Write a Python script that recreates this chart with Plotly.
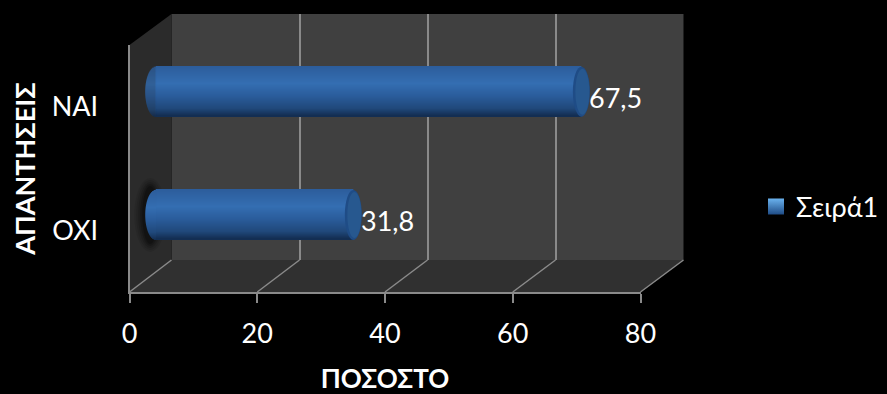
import math
import plotly.graph_objects as go

categories = ["OXI", "NAI"]
values = [31.8, 67.5]
x_ticks = [0, 20, 40, 60, 80]
series_name = "Σειρά1"
x_title = "ΠΟΣΟΣΤΟ"
y_title = "ΑΠΑΝΤΗΣΕΙΣ"

W, H = 887, 394
FONT = "Lato, 'Noto Sans', sans-serif"
TEXT = "#ffffff"
GRID = "#8a8a8a"
WALL = "#404040"
SIDE = "#2b2b2b"
FLOOR = "#303030"

def px(x):
    return x / W
def py(y):
    return 1 - y / H

UNIT_PX = 511 / 80
PAD = 5
FRONT = dict(l=129.5, r=640.5, t=45, b=292)
MID = dict(l=150.2 - PAD * UNIT_PX, r=661.2, t=30, b=276.5)
BACK = dict(l=171.5, r=683.5, t=14, b=260)

def dom_x(p):
    return [px(p["l"]), px(p["r"])]
def dom_y(p):
    return [py(p["b"]), py(p["t"])]

stops = [(0.0, (44, 92, 155)), (0.35, (52, 110, 178)), (0.6, (42, 92, 155)),
         (0.85, (32, 72, 122)), (1.0, (18, 44, 80))]

def shade(t):
    for (a, ca), (b, cb) in zip(stops, stops[1:]):
        if t <= b:
            f = (t - a) / (b - a)
            return "rgb(%d,%d,%d)" % tuple(round(u + (v - u) * f) for u, v in zip(ca, cb))
    return "rgb(%d,%d,%d)" % stops[-1][1]

BAR_PX = 50
N = 50
STRIP = BAR_PX / N
CAT_PX = (MID["b"] - MID["t"]) / 2
LEFT_HW = 10.5
LEFT_CX = 5.5
base_val = LEFT_CX / UNIT_PX

fig = go.Figure()

fig.add_trace(go.Scatter(x=[0], y=[0], mode="none", xaxis="x", yaxis="y", showlegend=False, hoverinfo="skip"))

shapes = []
def poly(pts, fill):
    d = "M" + "L".join(f"{px(a):.5f},{py(b):.5f}" for a, b in pts) + "Z"
    shapes.append(dict(type="path", path=d, xref="paper", yref="paper", fillcolor=fill,
                       line=dict(width=0), layer="below"))
def seg(a, b):
    shapes.append(dict(type="line", xref="paper", yref="paper", x0=px(a[0]), y0=py(a[1]),
                       x1=px(b[0]), y1=py(b[1]), line=dict(color=GRID, width=1.5), layer="below"))

poly([(BACK["l"], BACK["t"]), (BACK["r"], BACK["t"]), (BACK["r"], BACK["b"]), (BACK["l"], BACK["b"])], WALL)
poly([(FRONT["l"], FRONT["t"]), (BACK["l"], BACK["t"]), (BACK["l"], BACK["b"]), (FRONT["l"], FRONT["b"])], SIDE)
poly([(FRONT["l"], FRONT["b"]), (FRONT["r"], FRONT["b"]), (BACK["r"], BACK["b"]), (BACK["l"], BACK["b"])], FLOOR)
for v in x_ticks:
    f = FRONT["l"] + (FRONT["r"] - FRONT["l"]) * v / 80
    b = BACK["l"] + (BACK["r"] - BACK["l"]) * v / 80
    seg((f, FRONT["b"]), (b, BACK["b"]))

# soft shadow on the side wall behind the lower bar
for hw, hh, op in [(16, 37, 0.08), (14, 35, 0.1), (12, 33, 0.14), (10, 31, 0.18), (8, 29, 0.22)]:
    shapes.append(dict(type="circle", xref="x2", yref="y2", xsizemode="pixel", ysizemode="pixel",
                       xanchor=0, yanchor=categories[0], x0=-hw, x1=hw, y0=-hh, y1=hh,
                       fillcolor="#000000", opacity=op, line=dict(width=0), layer="below"))

for i in range(N):
    t = (i + 0.5) / N
    fig.add_trace(go.Bar(
        x=[v - base_val for v in values], y=categories, base=base_val, orientation="h",
        width=(STRIP + 0.4) / CAT_PX, offset=(BAR_PX / 2 - (i + 1) * STRIP) / CAT_PX,
        marker=dict(color=shade(t), line=dict(width=0)),
        xaxis="x2", yaxis="y2", showlegend=False, hoverinfo="skip"))
    u = 2 * t - 1
    reach = LEFT_CX - LEFT_HW * math.sqrt(max(0, 1 - u * u))
    top = BAR_PX / 2 - i * STRIP
    for c in categories:
        shapes.append(dict(type="rect", xref="x2", yref="y2", xsizemode="pixel", ysizemode="pixel",
                           xanchor=0, yanchor=c, x0=reach, x1=LEFT_CX + 0.5, y0=top - STRIP - 0.2, y1=top,
                           fillcolor=shade(t), line=dict(width=0), layer="above"))

for c, v in zip(categories, values):
    shapes.append(dict(type="circle", xref="x2", yref="y2", xsizemode="pixel", ysizemode="pixel",
                       xanchor=v, yanchor=c, x0=-8.5, x1=8.5, y0=-25, y1=25,
                       fillcolor="#1f4c86", line=dict(width=0), layer="above"))
    shapes.append(dict(type="circle", xref="x2", yref="y2", xsizemode="pixel", ysizemode="pixel",
                       xanchor=v, yanchor=c, x0=-6, x1=8, y0=-23, y1=23,
                       fillcolor="#27588f", line=dict(width=0), layer="above"))

annotations = [dict(x=v, y=c, xref="x2", yref="y2", text=f"{v:.1f}".replace(".", ","), showarrow=False,
                    xanchor="left", yanchor="middle", xshift=6, yshift=-6,
                    font=dict(family=FONT, size=27, color=TEXT))
               for c, v in zip(categories, values)]

fig.add_trace(go.Scatter(
    x=[None], y=[None], mode="markers", name=series_name, xaxis="x3", yaxis="y3",
    marker=dict(symbol="square", size=20, color="#6ab2ee",
                gradient=dict(type="vertical", color="#1f4c86")),
    showlegend=True, hoverinfo="skip"))

fig.update_layout(
    width=W, height=H, autosize=False,
    margin=dict(l=0, r=0, t=0, b=0, autoexpand=False),
    paper_bgcolor="#000000", plot_bgcolor="rgba(0,0,0,0)",
    barmode="overlay", shapes=shapes, annotations=annotations,
    font=dict(family=FONT, color=TEXT),
    legend=dict(x=px(756), y=py(207), xanchor="left", yanchor="middle", bgcolor="rgba(0,0,0,0)",
                font=dict(family=FONT, size=27, color=TEXT), itemsizing="trace"),
    xaxis=dict(domain=dom_x(BACK), range=[0, 80], tickvals=x_ticks, showticklabels=False, ticks="",
               showgrid=True, gridcolor=GRID, gridwidth=2, zeroline=False, anchor="y", showline=False),
    yaxis=dict(domain=dom_y(BACK), range=[0, 1], showticklabels=False, ticks="", showgrid=False,
               zeroline=False, anchor="x", showline=False),
    xaxis2=dict(domain=dom_x(MID), range=[-PAD, 80], visible=False, anchor="y2"),
    yaxis2=dict(domain=dom_y(MID), type="category", categoryorder="array", categoryarray=categories,
                range=[-0.5, 1.5], visible=False, anchor="x2"),
    xaxis3=dict(domain=dom_x(FRONT), range=[0, 80], tickvals=x_ticks, ticks="outside", ticklen=9, tickwidth=2,
                tickcolor=GRID, showline=True, linecolor=GRID, linewidth=2, showgrid=False, zeroline=False,
                anchor="y3", tickfont=dict(family=FONT, size=27, color=TEXT), ticklabelstandoff=8,
                title=dict(text=f"<b>{x_title}</b>", font=dict(family=FONT, size=26, color=TEXT), standoff=31)),
    yaxis3=dict(domain=dom_y(FRONT), type="category", categoryorder="array", categoryarray=categories,
                range=[-0.5, 1.5], ticks="outside", ticklen=9, tickcolor="rgba(0,0,0,0)",
                showline=True, linecolor=GRID, linewidth=2, showgrid=False, zeroline=False, anchor="x3",
                tickfont=dict(family=FONT, size=27, color=TEXT), ticklabelstandoff=15,
                title=dict(text=f"<b>{y_title}</b>", font=dict(family=FONT, size=27, color=TEXT), standoff=8)),
)

fig.write_html("out.html", config={"displayModeBar": False},
               post_script="document.body.style.margin='0';document.body.style.background='#000';")
